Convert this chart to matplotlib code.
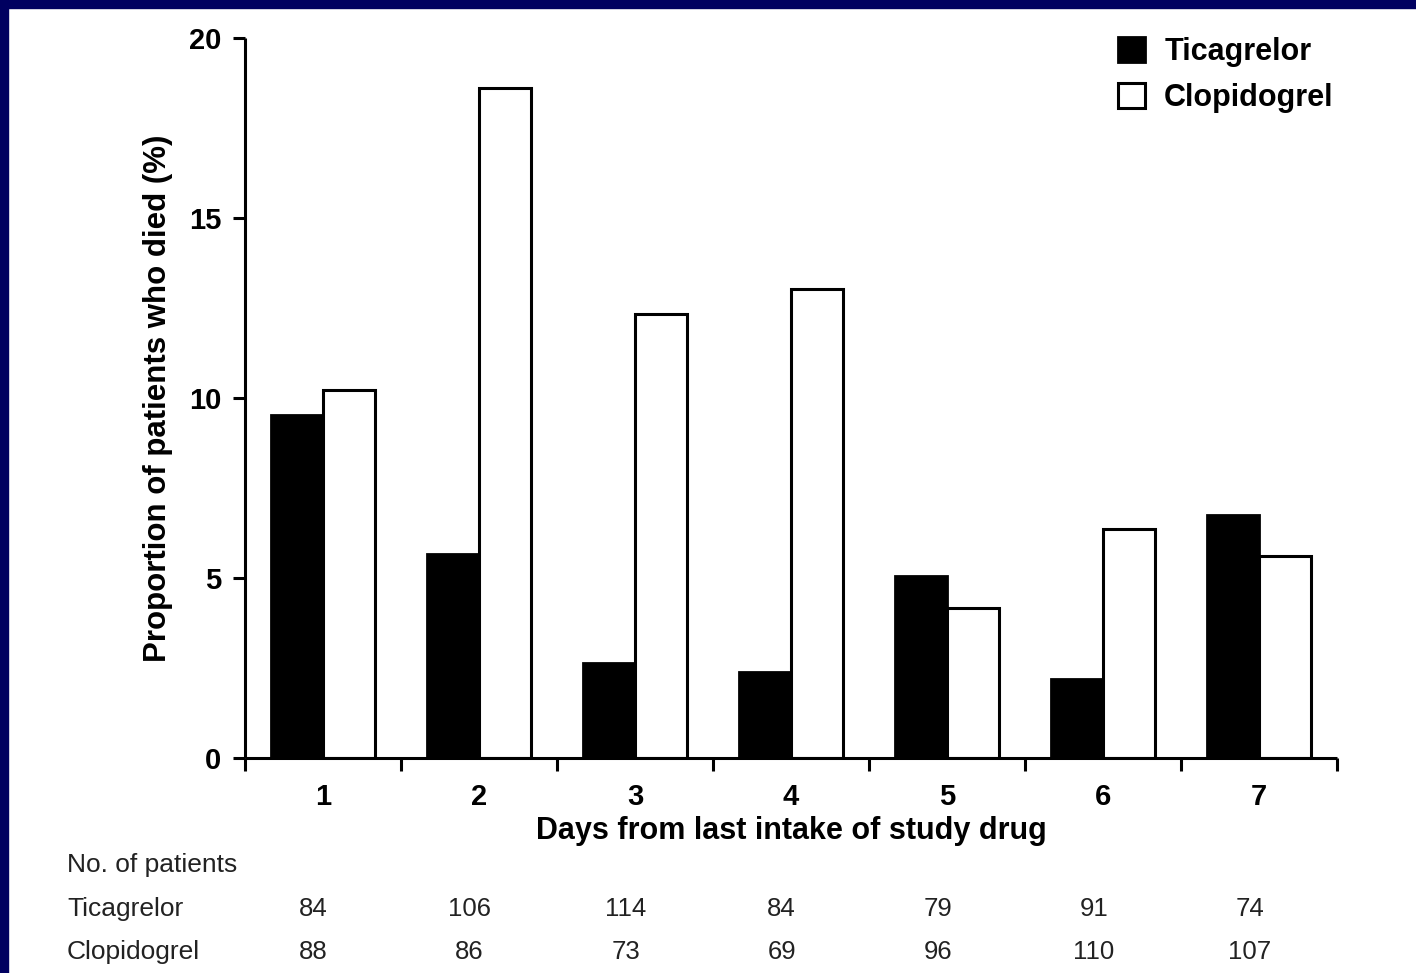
import matplotlib
matplotlib.use("Agg")
import matplotlib.pyplot as plt
from matplotlib.patches import Rectangle, Patch
import numpy as np

plt.rcParams['font.family'] = ['Liberation Sans', 'DejaVu Sans']

days = ["1", "2", "3", "4", "5", "6", "7"]
ticagrelor = [9.52, 5.66, 2.63, 2.38, 5.06, 2.20, 6.76]
clopidogrel = [10.23, 18.60, 12.33, 13.04, 4.17, 6.36, 5.61]
n_ticagrelor = [84, 106, 114, 84, 79, 91, 74]
n_clopidogrel = [88, 86, 73, 69, 96, 110, 107]
yticks = [0, 5, 10, 15, 20]

W, H = 1416, 973
fig = plt.figure(figsize=(W / 100, H / 100), dpi=100, facecolor='white')

# navy frame on left and top
navy = '#000060'
fig.patches.append(Rectangle((0, 0), 8 / W, 1, transform=fig.transFigure, color=navy, zorder=0))
fig.patches.append(Rectangle((0, 1 - 8 / H), 1, 8 / H, transform=fig.transFigure, color=navy, zorder=0))

left, right, top, bottom = 245, 1337, 38, 758
ax = fig.add_axes([left / W, 1 - bottom / H, (right - left) / W, (bottom - top) / H])

x = np.arange(len(days))
bw = 1 / 3
ax.bar(x + 0.5 - bw / 2, ticagrelor, width=bw, color='black', edgecolor='black', linewidth=2, label='Ticagrelor', zorder=2)
ax.bar(x + 0.5 + bw / 2, clopidogrel, width=bw, color='white', edgecolor='black', linewidth=2.2, label='Clopidogrel', zorder=2)

ax.set_xlim(0, len(days))
ax.set_ylim(0, 20)
for s in ['top', 'right']:
    ax.spines[s].set_visible(False)
for s in ['left', 'bottom']:
    ax.spines[s].set_linewidth(2.2)
    ax.spines[s].set_capstyle('butt')

ax.set_yticks(yticks)
ax.set_yticklabels([str(v) for v in yticks], fontsize=21, fontweight='bold')
ax.tick_params(axis='y', direction='out', length=9, width=2.2, pad=8)

ax.set_xticks(np.arange(len(days) + 1))
ax.set_xticklabels([])
ax.set_xticks(x + 0.5, minor=True)
ax.set_xticklabels(days, minor=True, fontsize=21, fontweight='bold')
ax.tick_params(axis='x', which='major', direction='out', length=9, width=2.2)
ax.tick_params(axis='x', which='minor', length=0, pad=18)

ax.set_ylabel('Proportion of patients who died (%)', fontsize=22.5, fontweight='bold')
ax.yaxis.set_label_coords(-0.066, 0.5)
ax.set_xlabel('Days from last intake of study drug', fontsize=22, fontweight='bold')
ax.xaxis.set_label_coords(0.5, -0.080)

# patient numbers table
trans = matplotlib.transforms.blended_transform_factory(ax.transData, ax.transAxes)
lx = (67 - left) / (right - left)
def ypos(py):
    return (bottom - py) / (bottom - top)
tc = '#222222'
ax.text(lx, ypos(865), 'No. of patients', transform=ax.transAxes, fontsize=19, ha='left', va='center', color=tc)
ax.text(lx, ypos(909), 'Ticagrelor', transform=ax.transAxes, fontsize=19, ha='left', va='center', color=tc)
ax.text(lx, ypos(952), 'Clopidogrel', transform=ax.transAxes, fontsize=19, ha='left', va='center', color=tc)
for i in range(len(days)):
    ax.text(x[i] + 0.44, ypos(909), str(n_ticagrelor[i]), transform=trans, fontsize=18.5, ha='center', va='center', color=tc)
    ax.text(x[i] + 0.44, ypos(952), str(n_clopidogrel[i]), transform=trans, fontsize=18.5, ha='center', va='center', color=tc)

handles = [Patch(facecolor='black', edgecolor='black', linewidth=2),
           Patch(facecolor='white', edgecolor='black', linewidth=2.2)]
leg = ax.legend(handles, ['Ticagrelor', 'Clopidogrel'], loc='upper right',
                bbox_to_anchor=(0.997, 1.001), frameon=False, borderpad=0,
                handlelength=0.88, handleheight=0.88, handletextpad=0.62,
                labelspacing=0.5, borderaxespad=0,
                prop={'size': 22, 'weight': 'bold'})

fig.savefig('out.png', dpi=100, facecolor='white')
